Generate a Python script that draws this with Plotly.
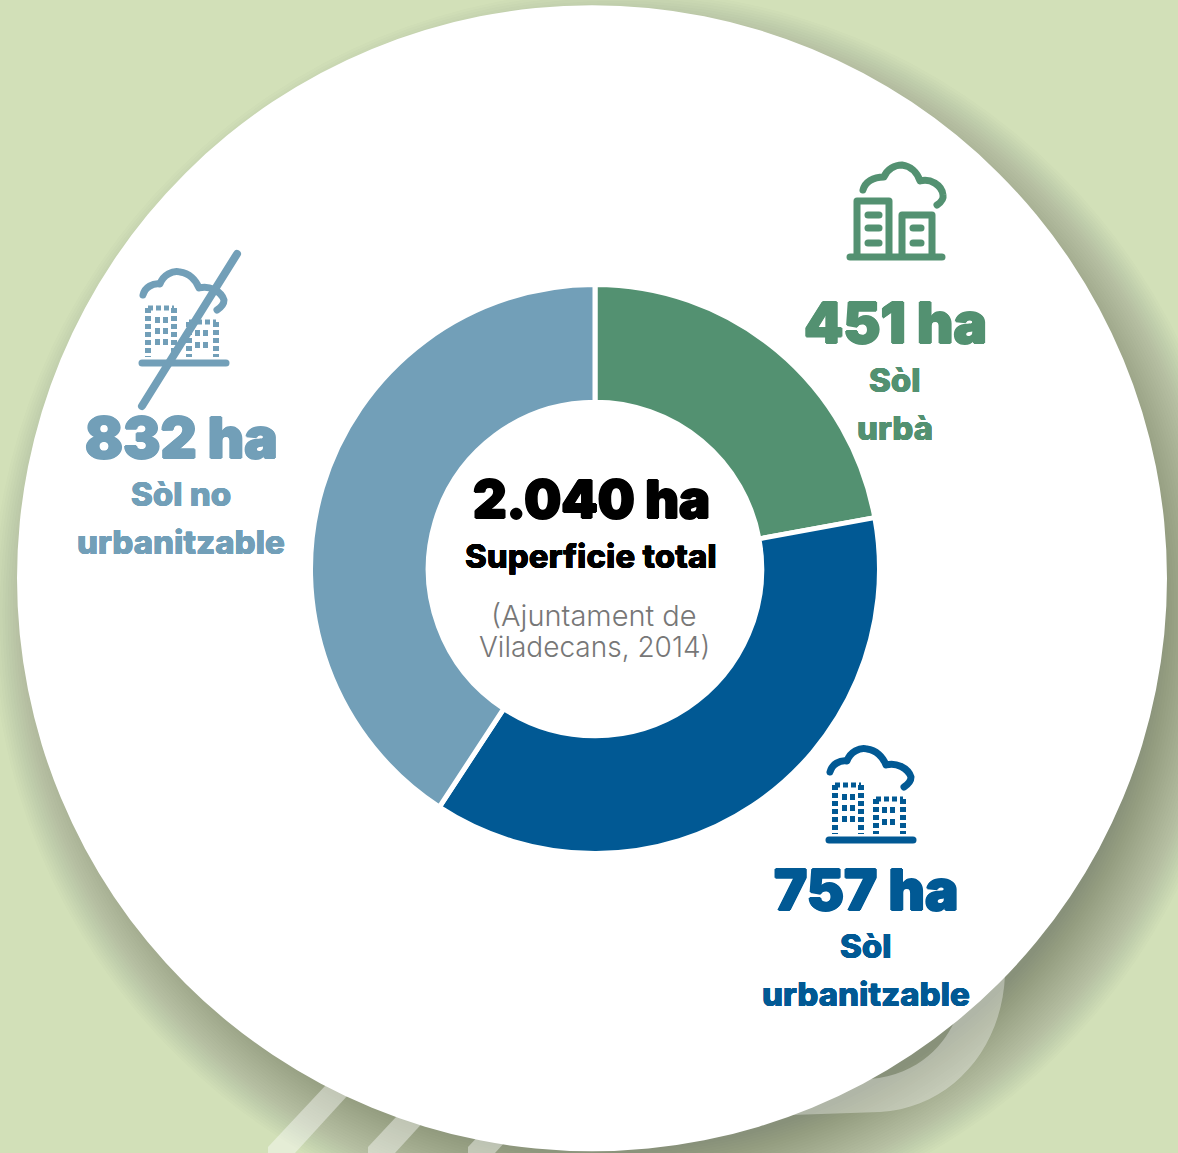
import plotly.graph_objects as go

W, H = 1178, 1153
categories = ["Sòl urbà", "Sòl urbanitzable", "Sòl no urbanitzable"]
values = [451, 757, 832]
colors = ["#539171", "#015994", "#729fb8"]
total_label = "2.040 ha"
BG = "#d2e0b8"
FONT = "Inter"

shapes = []
annots = []

def ellipse(cx, cy, rx, ry, **kw):
    return dict(type="circle", xref="x", yref="y", x0=cx - rx, x1=cx + rx, y0=cy - ry, y1=cy + ry, layer="below", **kw)

# soft drop shadow of the big disc
CX, CY, RX, RY = 592, 578.3, 575, 573
for i in range(34):
    shapes.append(ellipse(CX + 25, CY + 35, RX + 50 - i * 2.6, RY + 50 - i * 2.6,
                          fillcolor="rgba(70,85,50,0.016)", line_width=0))

# translucent ribbons showing behind the disc
ribbon = "rgba(255,255,255,0.34)"
shapes.append(dict(type="path", xref="x", yref="y", layer="below", line_width=0, fillcolor=ribbon,
                   path="M 1005 975 C 1002 1050 950 1108 880 1112 L 760 1116 L 770 1078 L 870 1079 C 930 1074 955 1030 962 1000 Z"))
for x0 in (268, 368, 468):
    shapes.append(dict(type="path", xref="x", yref="y", layer="below", line_width=0, fillcolor="rgba(255,255,255,0.42)",
                       path=f"M {x0} 1153 L {x0} 1147 L {x0+58} 1085 L {x0+80} 1095 L {x0+27} 1153 Z"))

# white disc
shapes.append(ellipse(CX, CY, RX, RY, fillcolor="white", line_width=0))

def add_path(path, color, width, dash=None):
    line = dict(color=color, width=width)
    if dash:
        line["dash"] = dash
    shapes.append(dict(type="path", xref="x", yref="y", layer="above", path=path, line=line,
                       fillcolor="rgba(0,0,0,0)"))

def seg(x0, y0, x1, y1, color, width, dash=None):
    add_path(f"M {x0} {y0} L {x1} {y1}", color, width, dash)

def cloud(dx, dy, color, w=7):
    dy += 2
    add_path(f"M {830+dx} {770+dy} C {832+dx} {762+dy} {840+dx} {758+dy} {847+dx} {759+dy} "
             f"C {850+dx} {750+dy} {860+dx} {745+dy} {867+dx} {747+dy} "
             f"C {876+dx} {748+dy} {883+dx} {755+dy} {886+dx} {763+dy} "
             f"C {896+dx} {760+dy} {908+dx} {766+dy} {911+dx} {775+dy} "
             f"C {911+dx} {780+dy} {907+dx} {783+dy} {904+dx} {785+dy}", color, w)

def dashed_icon(dx, dy, color):
    cloud(dx, dy, color)
    seg(829 + dx, 840 + dy, 913 + dx, 840 + dy, color, 7)
    d = "5px,3px"
    for (x0, x1, top) in ((835, 861, 785), (876, 903, 799)):
        seg(x0 + dx, top + dy, x0 + dx, 834 + dy, color, 6, d)
        seg(x1 + dx, top + dy, x1 + dx, 834 + dy, color, 6, d)
        seg(x0 + dx, top + dy, x1 + dx, top + dy, color, 5, d)
    for y in (797, 808, 819):
        seg(842 + dx, y + dy, 855 + dx, y + dy, color, 6, d)
    for y in (810, 822):
        seg(882 + dx, y + dy, 897 + dx, y + dy, color, 6, d)

# green building icon
g = colors[0]
add_path("M 863 190 C 865 182 873 177 884 177 C 887 169 895 165 902 165 C 910 166 917 172 920 181 "
         "C 930 178 942 185 943 195 C 944 200 940 203 937 205", g, 7)
seg(850, 257, 942, 257, g, 7)
add_path("M 857 255 L 857 201 L 889 201 L 889 255", g, 7)
add_path("M 902 255 L 902 215 L 932 215 L 932 255", g, 7)
for y in (215, 228, 243):
    seg(868, y, 879, y, g, 7)
for y in (228, 243):
    seg(913, y, 921, y, g, 7)

# blue and grey-blue dashed icons
dashed_icon(0, 0, colors[1])
dashed_icon(-687, -477, colors[2])
seg(237, 254, 142, 406, colors[2], 8)

def text(x, y, s, size, color, weight=700, thick=0.0):
    font = dict(family=FONT, size=size, color=color, weight=weight)
    if thick:
        font["shadow"] = f"{thick}px 0 0 {color}, -{thick}px 0 0 {color}, 0 {thick}px 0 {color}, 0 -{thick}px 0 {color}"
    annots.append(dict(x=x, y=y, xref="x", yref="y", text=s, showarrow=False, xanchor="center", yanchor="middle",
                       font=font))

text(895, 323, f"{values[0]} ha", 56, colors[0], 900, 1)
text(895, 380, "Sòl", 33, colors[0], 800, 0.4)
text(895, 428, "urbà", 33, colors[0], 800, 0.4)
text(866, 890, f"{values[1]} ha", 56, colors[1], 900, 1)
text(866, 946, "Sòl", 33, colors[1], 800, 0.4)
text(866, 994, "urbanitzable", 33, colors[1], 800, 0.4)
text(181, 438, f"{values[2]} ha", 56, colors[2], 900, 1)
text(181, 494, "Sòl no", 33, colors[2], 800, 0.4)
text(181, 542, "urbanitzable", 33, colors[2], 800, 0.4)
text(591, 499, total_label, 52, "#000000", 900, 1)
text(591, 556, "Superficie total", 33, "#000000", 800, 0.3)
text(594, 615, "(Ajuntament de", 29, "#777777", 300)
text(594, 647, "Viladecans, 2014)", 28, "#777777", 300)

pcx, pcy, pr = 595, 569, 284.5
fig = go.Figure(go.Pie(
    labels=categories, values=values, hole=0.586, sort=False, direction="clockwise", rotation=0,
    marker=dict(colors=colors, line=dict(color="white", width=5)),
    textinfo="none", showlegend=False,
    domain=dict(x=[(pcx - pr) / W, (pcx + pr) / W], y=[1 - (pcy + pr) / H, 1 - (pcy - pr) / H]),
))
fig.update_layout(
    width=W, height=H, margin=dict(l=0, r=0, t=0, b=0), paper_bgcolor=BG, plot_bgcolor=BG,
    xaxis=dict(range=[0, W], visible=False, fixedrange=True),
    yaxis=dict(range=[H, 0], visible=False, fixedrange=True),
    shapes=shapes, annotations=annots, showlegend=False,
)
post = """
document.documentElement.style.margin='0';
document.body.style.margin='0';
document.body.style.overflow='hidden';
var st=document.createElement('style');
st.textContent='.shapelayer path:not([style*="dasharray"]){stroke-linecap:round;stroke-linejoin:round}';
document.head.appendChild(st);
"""
fig.write_html("out.html", config=dict(displayModeBar=False), post_script=post)
